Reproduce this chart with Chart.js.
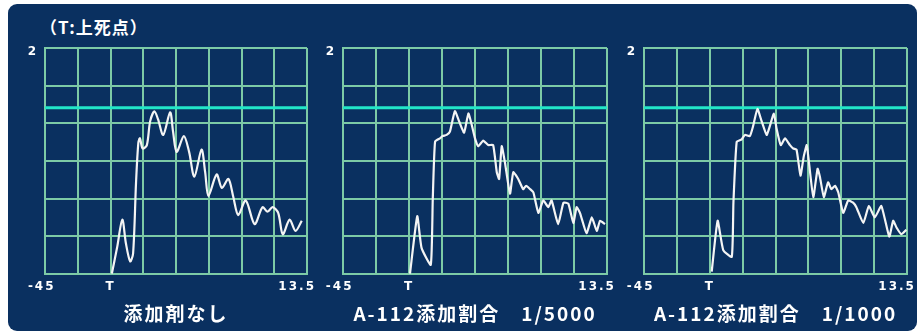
<!DOCTYPE html>
<html lang="ja">
<head>
<meta charset="utf-8">
<title>燃焼圧力波形</title>
<script src="https://cdn.jsdelivr.net/npm/chart.js@4.4.0/dist/chart.umd.min.js"></script>
<style>
  html, body { margin: 0; padding: 0; background: #fff; overflow: hidden; }
  #frame { position: absolute; left: 8px; top: 4px; width: 909px; height: 327px; background: #0a3060; border-radius: 9px; }
  #heading { position: absolute; left: 40px; top: 14px; line-height: 24px; color: #fff; letter-spacing: 1px;
             font: bold 17px "Noto Sans CJK JP", sans-serif; }
  canvas { position: absolute; top: 0; }
</style>
</head>
<body>
<div id="frame"></div>
<div id="heading">（T:上死点）</div>
<canvas id="c1" width="321" height="333" style="left:0px"></canvas>
<canvas id="c2" width="323" height="333" style="left:298px"></canvas>
<canvas id="c3" width="322" height="333" style="left:599px"></canvas>

<script>
// グリッド (横8分割 / 縦6分割、縦軸 0〜2)
const xGrid = [0, 1, 2, 3, 4, 5, 6, 7, 8];
const yGrid = [0, 1/3, 2/3, 1, 4/3, 5/3, 2];
const yTopLabel = '2';
const xTickPos = [-0.1, 2, 7.7];
const xTickLabels = ['-45', 'T', '13.5'];
const refLevel = 1.47; // 水色の基準線

// 添加剤なし
const noneX = [2.04, 2.20, 2.36, 2.47, 2.60, 2.69, 2.78, 2.85, 2.90, 2.98, 3.11, 3.21, 3.34, 3.45, 3.61, 3.82, 3.91, 4.02, 4.24, 4.40,
               4.56, 4.78, 4.89, 4.99, 5.24, 5.40, 5.60, 5.75, 5.90, 6.13, 6.40, 6.64, 6.79, 6.95, 7.12, 7.26, 7.47, 7.65, 7.84];
const noneY = [0, 0.23, 0.48, 0.27, 0.11, 0.18, 0.81, 1.16, 1.20, 1.11, 1.14, 1.35, 1.44, 1.37, 1.23, 1.43, 1.26, 1.08, 1.22, 1.08,
               0.86, 1.10, 0.90, 0.69, 0.88, 0.76, 0.84, 0.68, 0.52, 0.65, 0.44, 0.59, 0.55, 0.59, 0.54, 0.35, 0.48, 0.38, 0.47];

// A-112 1/5000
const a5000X = [2.03, 2.25, 2.38, 2.66, 2.72, 2.79, 2.94, 3.02, 3.14, 3.24, 3.39, 3.52, 3.67, 3.80, 3.90, 4.00, 4.10, 4.25, 4.40, 4.55,
                4.66, 4.73, 4.81, 4.91, 5.06, 5.16, 5.31, 5.46, 5.55, 5.67, 5.77, 5.92, 6.07, 6.22, 6.32, 6.52, 6.68, 6.83, 6.98, 7.08,
                7.18, 7.38, 7.54, 7.69, 7.79, 7.94];
const a5000Y = [0, 0.51, 0.23, 0.08, 0.66, 1.17, 1.20, 1.22, 1.23, 1.26, 1.44, 1.35, 1.25, 1.42, 1.32, 1.20, 1.13, 1.18, 1.14, 1.14,
                0.90, 0.84, 1.13, 0.98, 0.71, 0.90, 0.84, 0.75, 0.78, 0.75, 0.72, 0.54, 0.65, 0.59, 0.65, 0.44, 0.63, 0.62, 0.45, 0.59,
                0.54, 0.36, 0.50, 0.38, 0.47, 0.44];

// A-112 1/1000
const a1000X = [2.06, 2.24, 2.41, 2.67, 2.72, 2.82, 2.97, 3.07, 3.22, 3.32, 3.45, 3.58, 3.73, 3.83, 3.95, 4.03, 4.16, 4.29, 4.44, 4.54,
                4.64, 4.76, 4.86, 4.95, 5.02, 5.15, 5.28, 5.35, 5.47, 5.60, 5.70, 5.81, 5.91, 6.06, 6.21, 6.36, 6.46, 6.67, 6.84, 7.02,
                7.22, 7.46, 7.58, 7.68, 7.83, 7.98];
const a1000Y = [0.02, 0.47, 0.21, 0.15, 0.63, 1.17, 1.19, 1.23, 1.22, 1.31, 1.46, 1.35, 1.23, 1.31, 1.42, 1.29, 1.14, 1.20, 1.14, 1.11,
                1.10, 0.87, 1.04, 1.14, 0.98, 0.68, 0.93, 0.86, 0.68, 0.81, 0.75, 0.78, 0.72, 0.54, 0.65, 0.63, 0.59, 0.45, 0.60, 0.50,
                0.60, 0.33, 0.47, 0.41, 0.35, 0.39];

const gridColor = '#7ccaa6';
const tickFont = { family: '"DejaVu Sans", sans-serif', size: 12, weight: 'bold' };

// 文字間隔を少し広げる (元画像のビットマップ風フォントに寄せる)
const spacing = {
  id: 'spacing',
  beforeDraw(chart) { chart.ctx.letterSpacing = '2px'; }
};

function makePanel(id, xs, ys, caption, tension) {
  const trace = xs.map((x, i) => ({ x: x, y: ys[i] }));
  return new Chart(document.getElementById(id), {
    type: 'line',
    data: {
      datasets: [{
        data: trace,
        borderColor: '#f4f4f4',
        borderWidth: 2.2,
        pointRadius: 0,
        tension: tension
      }, {
        data: [{ x: 0, y: refLevel }, { x: 8, y: refLevel }],
        borderColor: '#22e6c8',
        borderWidth: 3,
        pointRadius: 0
      }]
    },
    plugins: [spacing],
    options: {
      responsive: false,
      animation: false,
      events: [],
      layout: { padding: { left: 25, right: 14, top: 48, bottom: 8 } },
      plugins: { legend: { display: false }, tooltip: { enabled: false } },
      scales: {
        x: {
          type: 'linear', min: 0, max: 8, position: 'bottom',
          afterBuildTicks: s => { s.ticks = xGrid.map(v => ({ value: v })); },
          ticks: { display: false },
          grid: { color: gridColor, lineWidth: 2, drawTicks: false },
          border: { color: gridColor, width: 2 }
        },
        xl: {
          type: 'linear', min: 0, max: 8, position: 'bottom',
          afterBuildTicks: s => { s.ticks = xTickPos.map(v => ({ value: v })); },
          ticks: {
            autoSkip: false, maxRotation: 0, color: '#fff', padding: 6, font: tickFont,
            callback: (v, i) => xTickLabels[i]
          },
          grid: { display: false, drawTicks: false },
          border: { display: false },
          title: {
            display: true, text: caption, color: '#fff',
            font: { family: '"Noto Sans CJK JP", sans-serif', size: 19, weight: 'bold' },
            padding: { top: 2, bottom: 0 }
          }
        },
        y: {
          min: 0, max: 2,
          afterBuildTicks: s => { s.ticks = yGrid.map(v => ({ value: v })); },
          afterFit: s => { s.width = 20; },
          ticks: {
            color: '#fff', padding: 7, labelOffset: 4, font: tickFont,
            callback: (v, i) => (i === yGrid.length - 1 ? yTopLabel : '')
          },
          grid: { color: gridColor, lineWidth: 2, drawTicks: false },
          border: { color: gridColor, width: 2 }
        }
      }
    }
  });
}

makePanel('c1', noneX, noneY, '添加剤なし', 0.3);
makePanel('c2', a5000X, a5000Y, 'A-112添加割合　1/5000', 0.15);
makePanel('c3', a1000X, a1000Y, 'A-112添加割合　1/1000', 0.15);
</script>
</body>
</html>
